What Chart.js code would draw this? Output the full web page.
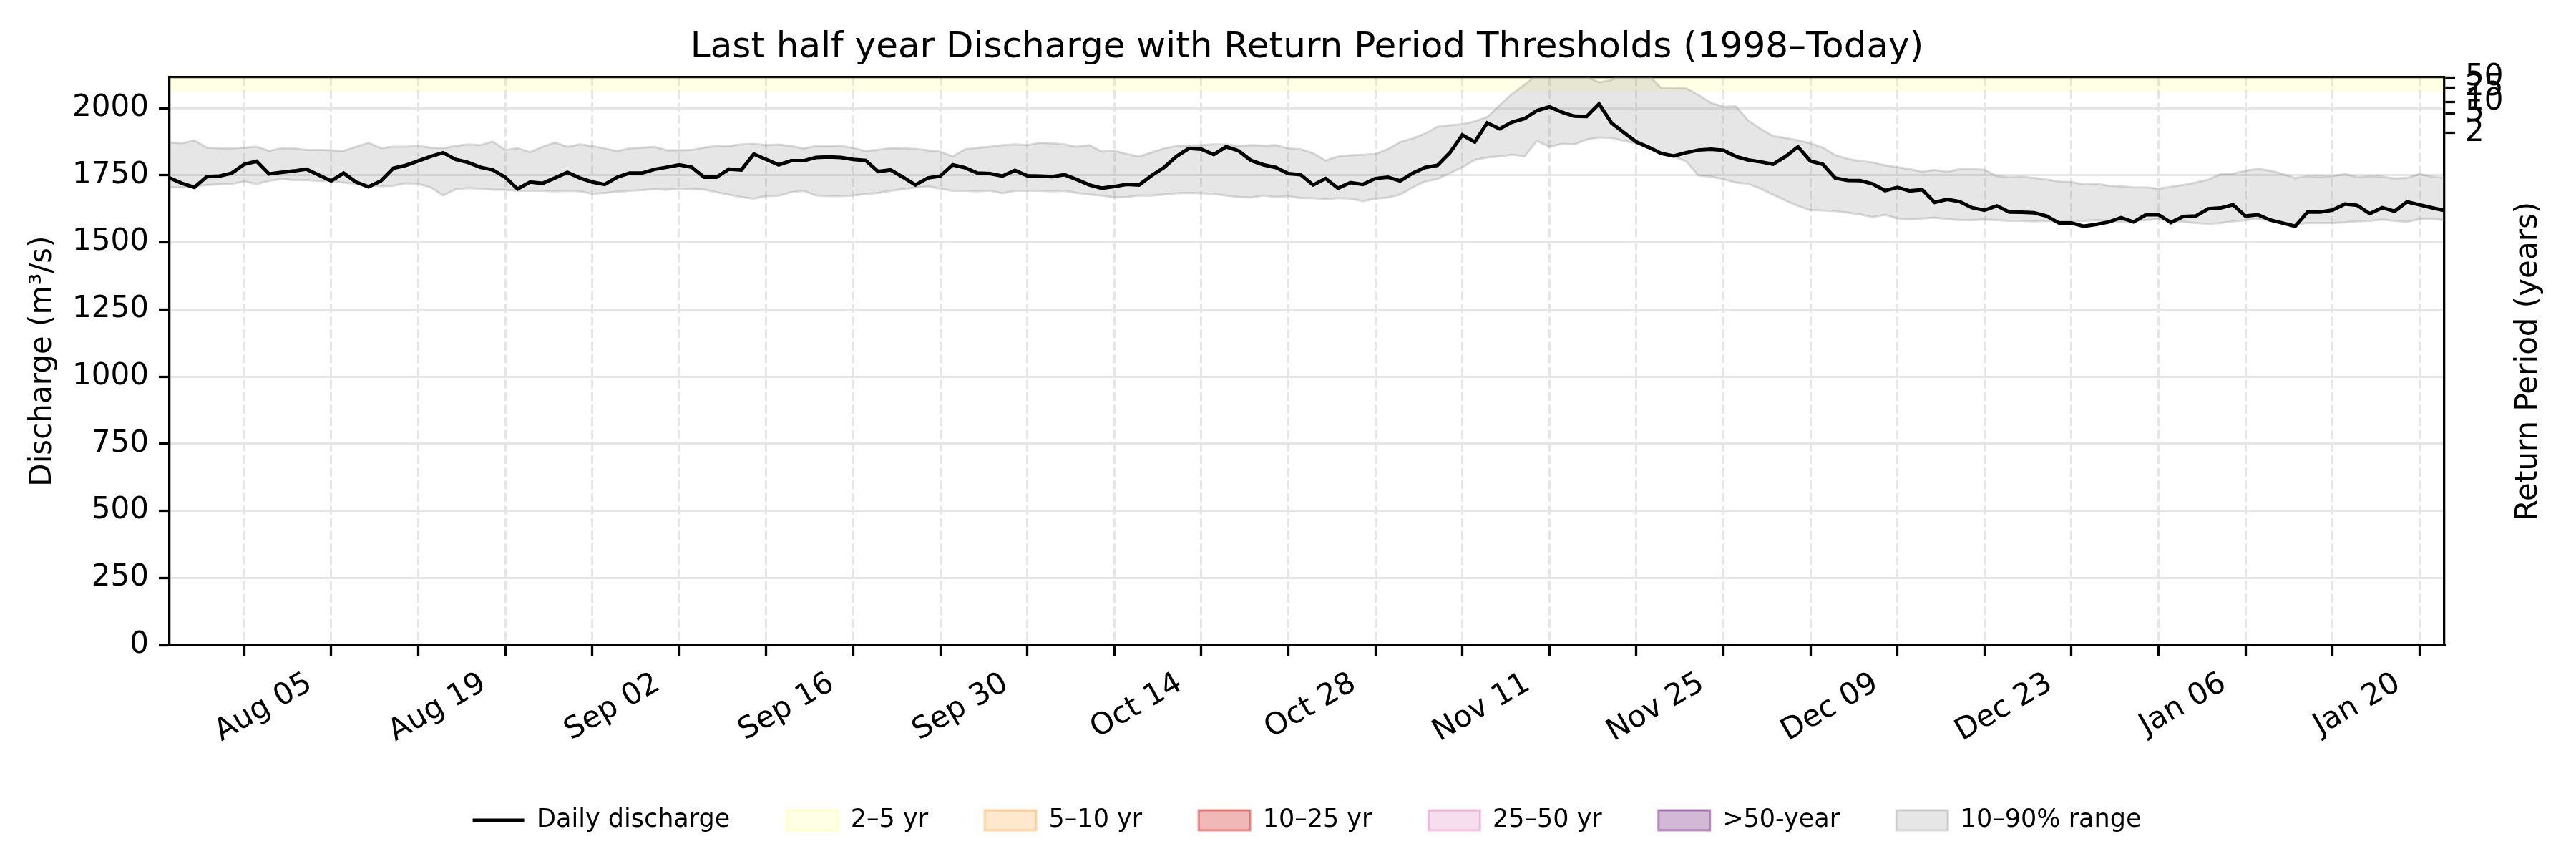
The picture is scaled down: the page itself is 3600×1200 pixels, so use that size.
<!DOCTYPE html>
<html>
<head>
<meta charset="utf-8">
<title>Last half year Discharge with Return Period Thresholds</title>
<script src="https://cdn.jsdelivr.net/npm/chart.js@4.4.1/dist/chart.umd.min.js"></script>
<style>
  html, body { margin: 0; padding: 0; background: #ffffff; }
  canvas { display: block; }
</style>
</head>
<body>
<canvas id="chart" width="3600" height="1200" style="width:3600px;height:1200px"></canvas>
<script>
// day 0 = 2024-07-23, one value per day up to 2025-01-22
const discharge = [
  1740, 1720, 1705, 1745, 1747, 1758, 1791, 1802, 1755, 1761,
  1766, 1773, 1751, 1729, 1758, 1725, 1707, 1729, 1776, 1787,
  1803, 1820, 1834, 1809, 1798, 1780, 1770, 1743, 1699, 1725,
  1720, 1740, 1761, 1740, 1725, 1716, 1743, 1758, 1758, 1772,
  1780, 1789, 1780, 1743, 1743, 1773, 1770, 1829, 1809, 1789,
  1804, 1804, 1816, 1818, 1816, 1809, 1805, 1764, 1770, 1743,
  1714, 1740, 1747, 1789, 1778, 1758, 1756, 1747, 1768, 1748,
  1747, 1745, 1752, 1734, 1714, 1702, 1708, 1716, 1714, 1749,
  1779, 1820, 1850, 1847, 1827, 1856, 1841, 1805, 1789, 1779,
  1756, 1752, 1714, 1738, 1702, 1723, 1716, 1738, 1743, 1729,
  1758, 1779, 1787, 1834, 1900, 1874, 1945, 1923, 1948, 1961,
  1991, 2005, 1985, 1970, 1969, 2016, 1945, 1909, 1874, 1854,
  1831, 1822, 1834, 1844, 1847, 1843, 1820, 1807, 1800, 1791,
  1820, 1856, 1803, 1791, 1740, 1731, 1730, 1718, 1693, 1705,
  1692, 1696, 1649, 1660, 1652, 1629, 1620, 1636, 1613, 1612,
  1610, 1598, 1572, 1572, 1560, 1567, 1576, 1592, 1576, 1603,
  1603, 1574, 1596, 1598, 1625, 1628, 1640, 1598, 1603, 1583,
  1572, 1560, 1613, 1613, 1620, 1643, 1638, 1607, 1629, 1616,
  1651, 1640, 1629, 1619
]

const q90 = [
  1872, 1869, 1880, 1853, 1850, 1850, 1853, 1856, 1841, 1850,
  1850, 1844, 1844, 1843, 1841, 1856, 1871, 1851, 1856, 1856,
  1859, 1853, 1851, 1859, 1865, 1862, 1876, 1844, 1851, 1836,
  1856, 1872, 1856, 1865, 1859, 1850, 1840, 1850, 1853, 1856,
  1843, 1843, 1844, 1853, 1859, 1859, 1865, 1867, 1862, 1864,
  1859, 1850, 1859, 1859, 1859, 1852, 1840, 1845, 1851, 1850,
  1848, 1843, 1838, 1820, 1847, 1852, 1856, 1862, 1865, 1862,
  1871, 1869, 1865, 1856, 1862, 1838, 1841, 1829, 1820, 1835,
  1850, 1859, 1860, 1862, 1865, 1865, 1859, 1862, 1860, 1862,
  1850, 1847, 1832, 1805, 1820, 1824, 1826, 1829, 1847, 1874,
  1887, 1905, 1931, 1936, 1940, 1951, 1967, 2011, 2053, 2087,
  2125, 2140, 2140, 2125, 2118, 2096, 2105, 2125, 2130, 2122,
  2075, 2075, 2074, 2049, 2020, 2005, 2007, 1954, 1923, 1896,
  1889, 1880, 1869, 1853, 1825, 1811, 1803, 1798, 1787, 1780,
  1773, 1763, 1770, 1763, 1773, 1773, 1771, 1747, 1743, 1745,
  1740, 1734, 1727, 1725, 1716, 1718, 1711, 1709, 1705, 1705,
  1700, 1707, 1714, 1723, 1734, 1754, 1756, 1767, 1774, 1767,
  1755, 1740, 1747, 1745, 1747, 1754, 1743, 1747, 1745, 1738,
  1740, 1755, 1745, 1740
]

const q10 = [
  1705, 1705, 1708, 1714, 1716, 1718, 1727, 1718, 1729, 1736,
  1732, 1732, 1729, 1729, 1723, 1718, 1714, 1709, 1711, 1720,
  1718, 1705, 1675, 1698, 1702, 1700, 1696, 1696, 1692, 1692,
  1692, 1690, 1692, 1690, 1681, 1684, 1689, 1692, 1695, 1698,
  1696, 1700, 1698, 1697, 1687, 1678, 1669, 1663, 1672, 1674,
  1687, 1692, 1675, 1672, 1672, 1675, 1680, 1684, 1692, 1698,
  1705, 1708, 1700, 1692, 1692, 1690, 1693, 1683, 1692, 1692,
  1692, 1690, 1692, 1684, 1678, 1674, 1667, 1669, 1675, 1674,
  1678, 1683, 1684, 1683, 1681, 1674, 1669, 1667, 1675, 1669,
  1672, 1665, 1665, 1660, 1665, 1663, 1654, 1663, 1667, 1678,
  1705, 1727, 1736, 1758, 1780, 1807, 1816, 1820, 1827, 1820,
  1878, 1856, 1867, 1865, 1883, 1891, 1889, 1878, 1869, 1851,
  1834, 1820, 1802, 1749, 1745, 1736, 1723, 1718, 1700, 1678,
  1656, 1636, 1620, 1619, 1616, 1611, 1604, 1594, 1603, 1589,
  1585, 1589, 1592, 1587, 1583, 1583, 1585, 1583, 1580, 1580,
  1578, 1580, 1578, 1580, 1580, 1583, 1580, 1576, 1580, 1583,
  1587, 1580, 1576, 1572, 1569, 1572, 1578, 1583, 1587, 1580,
  1569, 1567, 1572, 1572, 1572, 1574, 1578, 1580, 1585, 1580,
  1576, 1587, 1587, 1583
]

const xTickDays = [6, 13, 20, 27, 34, 41, 48, 55, 62, 69, 76, 83, 90, 97, 104, 111, 118, 125, 132, 139, 146, 153, 160, 167, 174, 181]
const xTickLabels = [
  '', 'Aug 05', '', 'Aug 19', '', 'Sep 02', '', 'Sep 16', '', 'Sep 30', '', 'Oct 14', '',
  'Oct 28', '', 'Nov 11', '', 'Nov 25', '', 'Dec 09', '', 'Dec 23', '', 'Jan 06', '', 'Jan 20'
]
const yTickValues = [0, 250, 500, 750, 1000, 1250, 1500, 1750, 2000]
const yMax = 2115

const returnLevels = [1907, 1981, 2024, 2077, 2115]
const returnLabels = ['2', '5', '10', '25', '50']

const bandNames = ['2–5 yr', '5–10 yr', '10–25 yr', '25–50 yr', '>50-year']
const bandFrom = [2061, 2135, 2175, 2230, 2270]
const bandTo = [2135, 2175, 2230, 2270, 2400]

const bandFill = ['rgba(255,255,0,0.1)', 'rgba(255,140,0,0.2)', 'rgba(214,39,40,0.33)', 'rgba(199,21,133,0.14)', 'rgba(118,42,131,0.33)']
const bandEdge = ['rgba(255,255,0,0.16)', 'rgba(255,140,0,0.32)', 'rgba(214,39,40,0.5)', 'rgba(199,21,133,0.22)', 'rgba(118,42,131,0.5)']
const rangeFill = 'rgba(128,128,128,0.2)'
const rangeEdge = 'rgba(128,128,128,0.28)'
const gridColor = '#e6e6e6'
const spineWidth = 3.3

const lastDay = discharge.length - 1
const toPoints = (values) => values.map((y, x) => ({ x, y }))

Chart.defaults.font.family = "'DejaVu Sans', sans-serif"
Chart.defaults.color = '#000000'

function bandDatasets() {
  return bandNames.map((name, i) => ({
    label: name,
    data: [{ x: 0, y: bandFrom[i] }, { x: lastDay, y: bandFrom[i] }],
    borderWidth: 0,
    pointRadius: 0,
    backgroundColor: bandFill[i],
    fill: { value: bandTo[i] }
  }))
}

function legendItems() {
  return [
    { text: 'Daily discharge', pointStyle: 'line', strokeStyle: '#000000', fillStyle: '#000000', lineWidth: 5, hidden: false },
    ...bandNames.map((name, i) => ({
      text: name, pointStyle: 'rect', fillStyle: bandFill[i], strokeStyle: bandEdge[i], lineWidth: 3, hidden: false
    })),
    { text: '10–90% range', pointStyle: 'rect', fillStyle: rangeFill, strokeStyle: rangeEdge, lineWidth: 3, hidden: false }
  ]
}

const rightAxisTitle = {
  id: 'rightAxisTitle',
  afterDraw(chart) {
    const { ctx, chartArea } = chart
    const scale = chart.scales.y2
    ctx.save()
    ctx.translate(scale.right - 66, (chartArea.top + chartArea.bottom) / 2)
    ctx.rotate(-Math.PI / 2)
    ctx.font = "42px 'DejaVu Sans', sans-serif"
    ctx.fillStyle = '#000000'
    ctx.textAlign = 'center'
    ctx.textBaseline = 'middle'
    ctx.fillText('Return Period (years)', 0, 0)
    ctx.restore()
  }
}

new Chart(document.getElementById('chart'), {
  type: 'line',
  data: {
    datasets: [
      {
        label: 'Daily discharge',
        data: toPoints(discharge),
        borderColor: '#000000',
        borderWidth: 5,
        pointRadius: 0,
        tension: 0,
        fill: false
      },
      {
        label: '90%',
        data: toPoints(q90),
        borderColor: rangeEdge,
        borderWidth: 3,
        pointRadius: 0,
        backgroundColor: rangeFill,
        fill: '+1'
      },
      {
        label: '10%',
        data: toPoints(q10),
        borderColor: rangeEdge,
        borderWidth: 3,
        pointRadius: 0,
        fill: false
      },
      ...bandDatasets()
    ]
  },
  options: {
    responsive: false,
    devicePixelRatio: 1,
    animation: false,
    events: [],
    layout: { padding: { left: 0, right: 0, top: 0, bottom: 26.5 } },
    plugins: {
      title: {
        display: true,
        fullSize: false,
        text: 'Last half year Discharge with Return Period Thresholds (1998–Today)',
        color: '#000000',
        font: { size: 50, weight: 'normal', lineHeight: 1.2 },
        padding: { top: 37, bottom: 11 }
      },
      legend: {
        position: 'bottom',
        fullSize: false,
        onClick: null,
        labels: {
          usePointStyle: true,
          pointStyleWidth: 72,
          boxHeight: 28,
          padding: 79,
          color: '#000000',
          font: { size: 35 },
          generateLabels: legendItems
        }
      },
      tooltip: { enabled: false }
    },
    scales: {
      x: {
        type: 'linear',
        position: 'bottom',
        min: 0,
        max: lastDay,
        afterBuildTicks: (scale) => { scale.ticks = xTickDays.map((value) => ({ value })) },
        afterFit: (scale) => { scale.height = 148.5 },
        ticks: {
          autoSkip: false,
          minRotation: 30,
          maxRotation: 30,
          padding: 14,
          labelOffset: -30,
          font: { size: 42 },
          color: '#000000',
          callback: (value, index) => xTickLabels[index]
        },
        grid: {
          color: gridColor,
          lineWidth: 3,
          tickColor: '#000000',
          tickLength: 15,
          tickWidth: spineWidth
        },
        border: { display: true, color: '#000000', width: spineWidth, dash: [12.3, 5.3] }
      },
      x2: {
        type: 'linear',
        position: 'top',
        min: 0,
        max: lastDay,
        afterFit: (scale) => { scale.height = 0 },
        ticks: { display: false },
        grid: { display: false, drawTicks: false, drawOnChartArea: false },
        border: { display: true, color: '#000000', width: spineWidth }
      },
      y: {
        type: 'linear',
        position: 'left',
        min: 0,
        max: yMax,
        afterBuildTicks: (scale) => { scale.ticks = yTickValues.map((value) => ({ value })) },
        afterFit: (scale) => { scale.width = 237 },
        ticks: {
          autoSkip: false,
          padding: 14,
          font: { size: 42 },
          color: '#000000',
          callback: (value) => String(value)
        },
        title: {
          display: true,
          text: 'Discharge (m³/s)',
          color: '#000000',
          font: { size: 42, lineHeight: 1.2 },
          padding: { top: 35, bottom: 0 }
        },
        grid: {
          color: gridColor,
          lineWidth: 3,
          tickColor: '#000000',
          tickLength: 15,
          tickWidth: spineWidth
        },
        border: { display: true, color: '#000000', width: spineWidth }
      },
      y2: {
        type: 'linear',
        position: 'right',
        min: 0,
        max: yMax,
        afterBuildTicks: (scale) => { scale.ticks = returnLevels.map((value) => ({ value })) },
        afterFit: (scale) => { scale.width = 184 },
        ticks: {
          autoSkip: false,
          padding: 14,
          font: { size: 42 },
          color: '#000000',
          callback: (value, index) => returnLabels[index]
        },
        grid: {
          drawOnChartArea: false,
          tickColor: '#000000',
          tickLength: 15,
          tickWidth: spineWidth
        },
        border: { display: true, color: '#000000', width: spineWidth }
      }
    }
  },
  plugins: [rightAxisTitle]
})
</script>
</body>
</html>
